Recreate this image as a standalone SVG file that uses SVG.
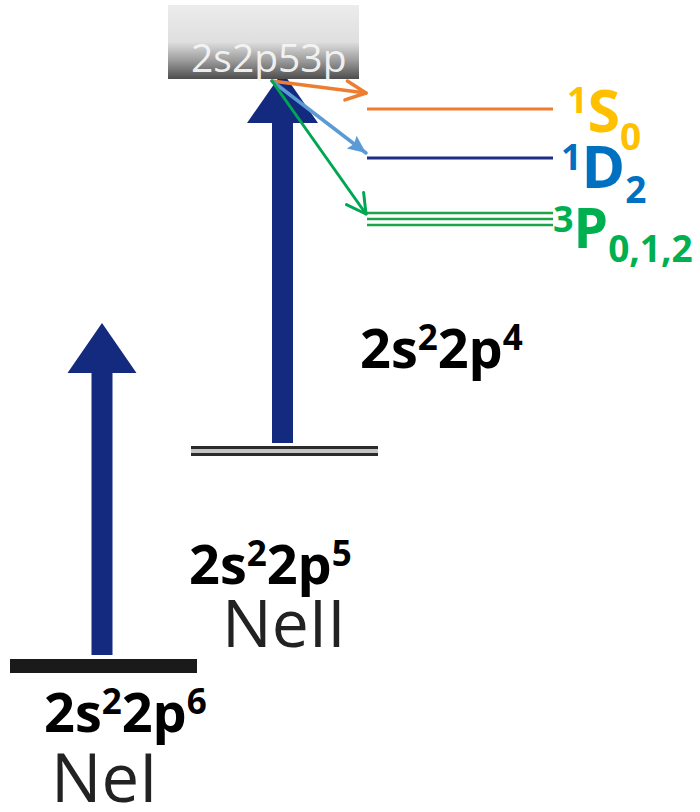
<svg xmlns="http://www.w3.org/2000/svg" width="700" height="812" viewBox="0 0 700 812">
<style>
.cfg{font-family:"Open Sans","Liberation Sans",sans-serif;font-weight:700;fill:#000;font-size:54px}
.sup{font-size:35px}
.ion{font-family:"Open Sans","Liberation Sans",sans-serif;font-weight:400;fill:#222}
.term{font-family:"Open Sans","Liberation Sans",sans-serif;font-weight:700}
.big{fill:#142a7e}
</style>
<defs>
<linearGradient id="boxg" x1="0" y1="0" x2="0" y2="1">
<stop offset="0" stop-color="#ececec"/>
<stop offset="0.5" stop-color="#dfdfdf"/>
<stop offset="0.75" stop-color="#9c9c9c"/>
<stop offset="1" stop-color="#4d4d4d"/>
</linearGradient>
<marker id="chevO" markerUnits="userSpaceOnUse" viewBox="-25 -15 30 30" refX="0" refY="0" markerWidth="30" markerHeight="30" orient="auto">
<path d="M-20,-9.5 L0,0 L-20,9.5" fill="none" stroke="#ed7d31" stroke-width="3.5" stroke-linecap="round" stroke-linejoin="round"/>
</marker>
<marker id="chevG" markerUnits="userSpaceOnUse" viewBox="-25 -15 30 30" refX="0" refY="0" markerWidth="30" markerHeight="30" orient="auto">
<path d="M-19,-10.5 L0,0 L-19,10.5" fill="none" stroke="#00a651" stroke-width="3" stroke-linecap="round" stroke-linejoin="round"/>
</marker>
<marker id="triB" markerUnits="userSpaceOnUse" viewBox="-25 -15 30 30" refX="0" refY="0" markerWidth="30" markerHeight="30" orient="auto">
<path d="M0,0 L-18,-8 L-15,0 L-18,8 Z" fill="#5b9bd5"/>
</marker>
</defs>

<g id="neI-level">
<rect x="10" y="659" width="187" height="14" fill="#1a1a1a"/>
</g>
<g id="neII-level">
<rect x="191" y="446" width="187" height="10" fill="#c4c4c4"/>
<rect x="191" y="446" width="187" height="3" fill="#2b2b2b"/>
<rect x="191" y="453" width="187" height="3" fill="#2b2b2b"/>
</g>

<g id="excite-arrows">
<path class="big" d="M91.5,655 V373 H67.5 L102,323 L136.5,373 H112.5 V655 Z"/>
<path class="big" d="M272,443 V123 H247 L282.5,72 L318,123 H293 V443 Z"/>
</g>

<g id="excited-box">
<rect x="168" y="5" width="191" height="74" fill="url(#boxg)"/>
<text x="191" y="72" font-family="Open Sans, Liberation Sans, sans-serif" font-size="39" fill="#f6f6f6" fill-opacity="0.95">2s2p53p</text>
</g>

<g id="final-levels">
<line x1="367" y1="109" x2="553" y2="109" stroke="#ed7d31" stroke-width="3"/>
<line x1="367" y1="158" x2="553" y2="158" stroke="#1f2d86" stroke-width="3"/>
<line x1="367" y1="213" x2="553" y2="213" stroke="#1ea24a" stroke-width="2.6"/>
<line x1="367" y1="219" x2="553" y2="219" stroke="#1ea24a" stroke-width="2.6"/>
<line x1="367" y1="225" x2="553" y2="225" stroke="#1ea24a" stroke-width="2.6"/>
</g>

<g id="connectors">
<line x1="272" y1="81" x2="366" y2="93" stroke="#ed7d31" stroke-width="3.5" stroke-linecap="round" marker-end="url(#chevO)"/>
<line x1="272" y1="81" x2="366" y2="153" stroke="#5b9bd5" stroke-width="3.5" stroke-linecap="round" marker-end="url(#triB)"/>
<line x1="272" y1="81" x2="366" y2="214" stroke="#00a651" stroke-width="3" stroke-linecap="round" marker-end="url(#chevG)"/>
</g>

<g id="label-1S0">
<text class="term" x="567" y="113" font-size="36" fill="#ffc000">1<tspan font-size="59" dy="19">S</tspan><tspan font-size="37" dy="18">0</tspan></text>
</g>
<g id="label-1D2">
<text class="term" x="561" y="170" font-size="36" fill="#0070c0">1<tspan font-size="59" dy="18">D</tspan><tspan font-size="37" dy="15">2</tspan></text>
</g>
<g id="label-3P">
<text class="term" x="553" y="232" font-size="36" fill="#00b050">3<tspan font-size="55" dy="16">P</tspan><tspan font-size="37" dy="14">0,1,2</tspan></text>
</g>

<g id="label-2p4">
<text class="cfg" x="360" y="368">2s<tspan class="sup" dy="-18">2</tspan><tspan dy="18">2p</tspan><tspan class="sup" dy="-18">4</tspan></text>
</g>
<g id="label-2p5">
<text class="cfg" x="189" y="584">2s<tspan class="sup" dy="-18">2</tspan><tspan dy="18">2p</tspan><tspan class="sup" dy="-18">5</tspan></text>
<text class="ion" x="222" y="647" font-size="66">NeII</text>
</g>
<g id="label-2p6">
<text class="cfg" x="44" y="732">2s<tspan class="sup" dy="-18">2</tspan><tspan dy="18">2p</tspan><tspan class="sup" dy="-18">6</tspan></text>
<text class="ion" x="51" y="802" font-size="67">NeI</text>
</g>
</svg>
